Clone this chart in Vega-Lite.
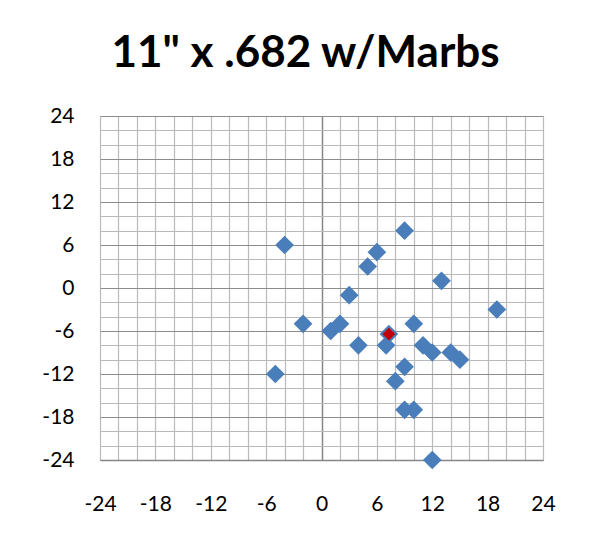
{
  "$schema": "https://vega.github.io/schema/vega-lite/v6.json",
  "width": 443,
  "height": 344,
  "autosize": "none",
  "padding": {"left": 100, "top": 116, "right": 63, "bottom": 77},
  "background": "white",
  "title": {"text": "11\" x .682 w/Marbs", "font": "Lato", "fontSize": 44, "fontWeight": "bold", "color": "#000000", "anchor": "middle", "baseline": "alphabetic", "offset": -6, "dx": -16},
  "config": {
    "view": {"stroke": null},
    "axis": {"labelFont": "Lato", "labelFontSize": 21, "labelColor": "#000000", "ticks": false, "title": null, "gridWidth": 1.2}
  },
  "datasets": {
    "shots": [
      {"x": -4, "y": 6}, {"x": -2, "y": -5}, {"x": -5, "y": -12}, {"x": 1, "y": -6},
      {"x": 2, "y": -5}, {"x": 3, "y": -1}, {"x": 4, "y": -8}, {"x": 5, "y": 3},
      {"x": 6, "y": 5}, {"x": 9, "y": 8}, {"x": 13, "y": 1}, {"x": 19, "y": -3},
      {"x": 7, "y": -8}, {"x": 10, "y": -5}, {"x": 11, "y": -8}, {"x": 12, "y": -9},
      {"x": 14, "y": -9}, {"x": 15, "y": -10}, {"x": 9, "y": -11}, {"x": 8, "y": -13},
      {"x": 9, "y": -17}, {"x": 10, "y": -17}, {"x": 12, "y": -24}
    ],
    "mean": [{"x": 7.3, "y": -6.43}]
  },
  "encoding": {
    "x": {"field": "x", "type": "quantitative",
      "scale": {"domain": [-24, 24], "nice": false, "zero": false},
      "axis": {"values": [-24,-22,-20,-18,-16,-14,-12,-10,-8,-6,-4,-2,0,2,4,6,8,10,12,14,16,18,20,22,24],
        "labelExpr": "datum.value % 6 == 0 ? '' + datum.value : ''",
        "grid": true,
        "gridColor": {"condition": {"test": "datum.value == 0", "value": "#868686"}, "value": "#bababa"},
        "gridWidth": {"condition": {"test": "datum.value == 0", "value": 1.5}, "value": 1.2},
        "domain": true, "domainColor": "#868686", "domainWidth": 1.5,
        "labelPadding": 33, "labelFlush": false, "labelOverlap": false}},
    "y": {"field": "y", "type": "quantitative",
      "scale": {"domain": [-24, 24], "nice": false, "zero": false},
      "axis": {"values": [-24,-22,-20,-18,-16,-14,-12,-10,-8,-6,-4,-2,0,2,4,6,8,10,12,14,16,18,20,22,24],
        "labelExpr": "datum.value % 6 == 0 ? '' + datum.value : ''",
        "grid": true,
        "gridColor": {"condition": {"test": "datum.value % 6 == 0", "value": "#8c8c8c"}, "value": "#bababa"},
        "domain": false, "labelPadding": 26, "labelFlush": false, "labelOverlap": false}}
  },
  "layer": [
    {
      "data": {"name": "shots"},
      "mark": {"type": "point", "shape": "diamond", "filled": true, "size": 350, "color": "#4a7ebb", "opacity": 1}
    },
    {
      "data": {"name": "mean"},
      "mark": {"type": "point", "shape": "diamond", "filled": true, "size": 250, "fill": "#c00000", "stroke": "#4a7ebb", "strokeWidth": 2, "opacity": 1}
    }
  ]
}
